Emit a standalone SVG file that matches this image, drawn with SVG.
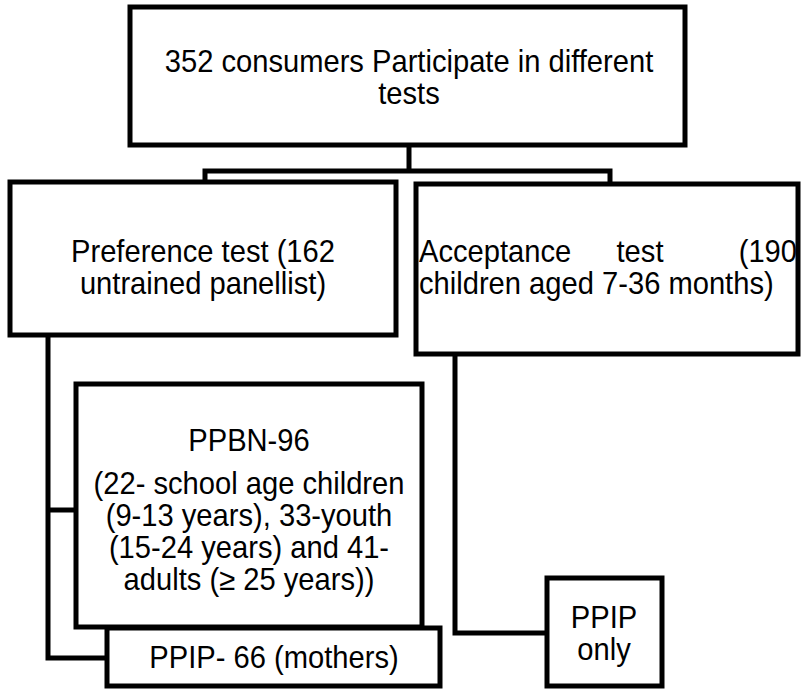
<svg xmlns="http://www.w3.org/2000/svg" width="802" height="689" viewBox="0 0 802 689">
<style>
.box{fill:#fff;stroke:#000;stroke-width:5}
.ln{fill:none;stroke:#000;stroke-width:5}
text{font-family:"Liberation Sans",Arial,sans-serif;font-size:31px;fill:#000}
.c{text-anchor:middle}
.e{text-anchor:end}
</style>
<rect width="802" height="689" fill="#fff"/>
<g id="connectors">
<polyline class="ln" points="409,145 409,171"/>
<polyline class="ln" points="205,182 205,171 610,171 610,184"/>
<polyline class="ln" points="48,335 48,658 107,658"/>
<polyline class="ln" points="48,510 76,510"/>
<polyline class="ln" points="455,354 455,633 547,633"/>
</g>
<g id="top">
<rect class="box" x="130" y="7" width="555" height="138"/>
<text class="c" transform="translate(409 72) scale(0.94 1)">352 consumers Participate in different</text>
<text class="c" transform="translate(409 104) scale(0.94 1)">tests</text>
</g>
<g id="preference">
<rect class="box" x="10" y="182" width="386" height="153"/>
<text class="c" transform="translate(203 262) scale(0.94 1)">Preference test (162</text>
<text class="c" transform="translate(203 294) scale(0.94 1)">untrained panellist)</text>
</g>
<g id="acceptance">
<rect class="box" x="416" y="184" width="382" height="170"/>
<text transform="translate(419 262) scale(0.94 1)">Acceptance</text>
<text class="c" transform="translate(640 262) scale(0.94 1)">test</text>
<text class="e" transform="translate(797 262) scale(0.94 1)">(190</text>
<text transform="translate(419 294) scale(0.94 1)">children aged 7-36 months)</text>
</g>
<g id="ppbn">
<rect class="box" x="76" y="384" width="346" height="243"/>
<text class="c" transform="translate(249 451) scale(0.94 1)">PPBN-96</text>
<text class="c" transform="translate(249 494) scale(0.94 1)">(22- school age children</text>
<text class="c" transform="translate(249 526) scale(0.94 1)">(9-13 years), 33-youth</text>
<text class="c" transform="translate(249 558) scale(0.94 1)">(15-24 years) and 41-</text>
<text class="c" transform="translate(249 590) scale(0.94 1)">adults (≥ 25 years))</text>
</g>
<g id="ppip66">
<rect class="box" x="107" y="628" width="333" height="58"/>
<text class="c" transform="translate(274 668) scale(0.94 1)">PPIP- 66 (mothers)</text>
</g>
<g id="ppiponly">
<rect class="box" x="547" y="578" width="115" height="108"/>
<text class="c" transform="translate(604 628) scale(0.94 1)">PPIP</text>
<text class="c" transform="translate(604 660) scale(0.94 1)">only</text>
</g>
</svg>
